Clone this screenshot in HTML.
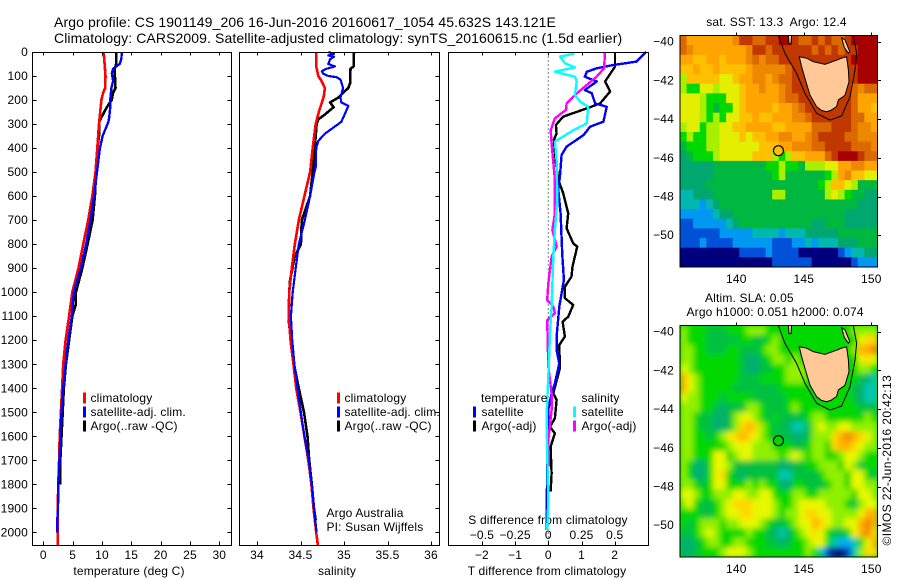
<!DOCTYPE html>
<html>
<head>
<meta charset="utf-8">
<title>Argo profile</title>
<style>
html,body{margin:0;padding:0;background:#fff;}
svg{display:block;}
text{font-family:"Liberation Sans",sans-serif;font-size:12px;fill:#000;letter-spacing:.17px;white-space:pre;}
.t{font-size:14px;letter-spacing:.1px;}
</style>
</head>
<body>
<svg id="chart" xmlns="http://www.w3.org/2000/svg" width="900" height="580" viewBox="0 0 900 580">
<rect width="900" height="580" fill="#fff"/>
<text class="t" x="54" y="27">Argo profile: CS 1901149_206 16-Jun-2016 20160617_1054 45.632S 143.121E</text>
<text class="t" x="54" y="43">Climatology: CARS2009. Satellite-adjusted climatology: synTS_20160615.nc (1.5d earlier)</text>
<text x="129" y="575" text-anchor="middle">temperature (deg C)</text>
<text x="337" y="575" text-anchor="middle">salinity</text>
<text x="547" y="575" text-anchor="middle">T difference from climatology</text>
<text x="548" y="524" text-anchor="middle">S difference from climatology</text>
<text x="326.5" y="517">Argo Australia</text>
<text x="326.5" y="531">PI: Susan Wijffels</text>
<text x="776.5" y="26" text-anchor="middle">sat. SST: 13.3  Argo: 12.4</text>
<text x="705" y="302">Altim. SLA: 0.05</text>
<text x="686.5" y="316">Argo h1000: 0.051 h2000: 0.074</text>
<text transform="translate(891,545.5) rotate(-90)" style="letter-spacing:.4px">©IMOS 22-Jun-2016 20:42:13</text>
<defs>
<clipPath id="clipSst"><rect x="680" y="35.5" width="197.5" height="231.5"/></clipPath>
<clipPath id="clipSla"><rect x="680" y="325.5" width="197.5" height="231.5"/></clipPath>
<filter id="smooth" x="-5%" y="-5%" width="110%" height="110%"><feGaussianBlur stdDeviation="2.8"/></filter>
</defs>
</svg>
<script>
// ---------- profile data ----------
var tempTicks = [0,5,10,15,20,25,30];
var salTicks = [34,34.5,35,35.5,36];
var depthTicks = [0,100,200,300,400,500,600,700,800,900,1000,1100,1200,1300,1400,1500,1600,1700,1800,1900,2000];
var tDiffTicks = [-2,-1,0,1,2];
var sDiffTicks = [-0.5,-0.25,0,0.25,0.5];
var sDiffTickLabels = ['\u22120.5','\u22120.25','0','0.25','0.5'];
var lonTicks = [140,145,150];
var latTicks = [-40,-42,-44,-46,-48,-50];

var tempClimDepth = [0,100,150,170,200,250,300,400,500,600,700,800,900,1000,1100,1200,1300,1400,1500,1600,1700,1800,1900,2000,2055];
var tempClimVal = [10.3,10.6,10.55,10.2,9.9,9.7,9.5,9.2,8.9,8.35,7.65,6.8,6.0,4.95,4.4,3.8,3.4,3.2,3.0,2.8,2.7,2.55,2.45,2.45,2.45];
var tempSatDepth = [0,30,50,70,90,120,150,200,230,270,290,320,350,400,500,600,700,800,900,1000,1100,1200,1300,1400,1500,1600,1700,1800,1900,1960,2000];
var tempSatVal = [13.4,13.3,13,11.9,11.7,11.9,11.6,11.4,11.4,11.25,11.1,10.6,10.1,9.65,9.15,8.65,8.05,7.3,6.4,5.2,4.85,4.25,3.8,3.4,3.1,2.95,2.75,2.55,2.5,2.35,2.35];
var tempArgoDepth = [0,50,70,100,150,170,200,220,240,270,290,350,400,500,600,700,800,900,1000,1050,1100,1200,1300,1400,1500,1600,1700,1800];
var tempArgoVal = [12.4,12.4,12.2,12.2,12.3,11.9,11.65,11.1,10.6,9.95,9.55,9.5,9.2,9,8.8,8.4,7.55,6.65,5.55,5.55,4.95,4.4,3.85,3.5,3.3,3.1,2.9,2.85];

var salClimDepth = [0,60,100,120,150,180,200,250,300,400,500,600,700,800,900,1000,1100,1200,1300,1400,1500,1600,1700,1800,1900,2000,2055];
var salClimVal = [34.68,34.68,34.705,34.74,34.78,34.77,34.755,34.71,34.675,34.64,34.61,34.545,34.48,34.435,34.4,34.37,34.365,34.385,34.42,34.45,34.5,34.545,34.59,34.625,34.65,34.68,34.7];
var salSatDepth = [0,8,14,20,30,50,60,70,80,90,100,105,115,150,190,210,225,250,290,310,340,370,400,480,500,600,700,800,900,1000,1100,1200,1300,1400,1500,1600,1700,1800,1900,2000];
var salSatVal = [34.82,34.885,34.82,34.885,34.84,34.82,34.895,34.8,34.745,34.76,34.82,34.915,34.96,34.99,34.96,34.97,35.05,35.02,34.97,34.895,34.78,34.705,34.68,34.675,34.66,34.61,34.55,34.48,34.445,34.41,34.39,34.405,34.43,34.465,34.505,34.545,34.595,34.63,34.655,34.685];
var salArgoDepth = [0,60,70,130,150,170,190,210,230,260,280,300,350,500,600,700,800,850,950,1000,1080,1120,1200,1300,1400,1500,1600,1700,1800,1900,1950];
var salArgoVal = [35.115,35.11,35.075,35.07,35.05,34.99,34.935,34.84,34.88,34.78,34.705,34.685,34.675,34.64,34.61,34.515,34.505,34.435,34.38,34.37,34.365,34.365,34.39,34.425,34.48,34.54,34.58,34.6,34.63,34.655,34.675];

var dTempArgoDepth = [5,61,123,165,214,235,269,304,339,366,463,533,588,672,734,797,810,894,935,977,1025,1053,1102,1123,1185,1220,1317,1421,1449,1525,1560,1588,1643,1754,1830];
var dTempArgoVal = [2.01,2.01,1.71,1.86,1.56,1.16,.45,.23,.25,.17,.23,.30,.45,.60,.55,.75,.87,.73,.70,.50,.50,.75,.60,.43,.50,.33,.35,.15,.25,.20,.05,.20,.07,.10,.07];
var dTempSatDepth = [0,40,54,68,82,103,123,158,172,214,228,290,311,346,394,429,519,575,672,838,949,1060,1185,1241,1296,1379,1421,1490,1657,1990];
var dTempSatVal = [2.95,2.66,1.96,1.46,1.16,1.1,1.46,1.1,1.31,1.41,1.76,1.66,1.26,1.06,.55,.40,.35,.30,.37,.42,.47,.33,.25,.25,.33,.20,.10,0,-.03,-.05];
var dSalSatDepth = [0,8,19,47,64,82,103,123,179,207,228,297,325,373,457,616,741,852,1060,1171,1352,1518,1671,1865,1990];
var dSalSatVal = [.188,.188,.088,.126,.20,.05,.20,.214,.20,.24,.30,.29,.19,.05,.063,.068,.05,.038,.025,.0125,0,-.0125,-.008,0,-.008];
var dSalArgoDepth = [0,68,103,137,179,214,241,276,325,380,533,672,741,810,852,963,1033,1060,1088,1116,1310,1421,1490,1615,1726];
var dSalArgoVal = [.427,.42,.364,.29,.20,.138,.133,.05,.018,.025,.05,.05,.03,.063,.025,0,-.008,.038,.05,-.008,0,.025,.025,0,.005];

// ---------- map data: one character per cell (colour level) ----------
var sstRows = [
"caaaaaaabddccddeedccdcdccdeeee",
"cbaaaaaaaabddcddddddcdcdcddeee",
"aa99aa9aaabcbccdddddddddddeeee",
"99a99a9999abbbbbcddddddddddeee",
"799999889aabbabccddddddddddeee",
"7668878889aabaabcdddddddddcbcc",
"8887666889aaaaabccddddddddcaaa",
"8887656689aaaa9aabcdddddddcaa9",
"88876768899a99aaabbcddddddccaa",
"7886778899aaaa99aaaacccdddcbba",
"6766778889899aabbaabcddddccbbb",
"566677888888999aabbbccddddcccb",
"4566678888899976799aaacdeeedcc",
"444445555555566766577788aabbaa",
"444445555555556755555567ab9988",
"444455555555555555555679987555",
"334445555555557755555578765544",
"333234555555555555555555555444",
"222223445555555555555555544444",
"112222234555555555554455544444",
"111111222223333233344444555555",
"111211112222221112232333444555",
"000000000111121111000000123344",
"000000000000001111110000001222"];
var slaRows = [
"766655566677766666666666667777",
"766655555665567666666666666899",
"776655566555677666666666667aab",
"776666666544567767666666666898",
"876666666544556677766666666776",
"a87666666555666677766666666543",
"a87666665555555666666666665433",
"877666566665555566666666665433",
"777665455577655567666666666555",
"776554457887656555567766666676",
"7765544579a9765543357877887777",
"776656789a98765554457779aba987",
"77666667888777666556 7769aa9877".replace(' ','').substring(0,30),
"776668867887777678767766788766",
"764468875555555445566777687 56".replace(' ',''),
"764468965455555335555677768865",
"776568866676766446655567768877",
"887667778877886667766777776887",
"786556789998887667888877765788",
"66655678899888767789 98877778aa".replace(' ','').substring(0,30),
"656777677888765567 88a987788aba".replace(' ','').substring(0,30),
"556787666676654346789865568ab9",
"445677667766655456678 86322368a9".replace(' ','').substring(0,30),
"445666788876666666676310013799"];
var sstPalette = {'0':'#00007f','1':'#0050d8','2':'#0098f0','3':'#00b8b0','4':'#00a870','5':'#00b840','6':'#00d800','7':'#a8f000','8':'#e4ee00','9':'#ffc000','a':'#ffa400','b':'#ee8800','c':'#dc6800','d':'#c03800','e':'#a80000'};
var slaPalette = {'0':'#00007f','1':'#0030e0','2':'#00b0f0','3':'#00c8b0','4':'#00b070','5':'#00c040','6':'#00d800','7':'#90f000','8':'#e8f800','9':'#ffd800','a':'#ffb000','b':'#f08800'};

// ---------- coastline and isobath (lon / lat) ----------
var tasLon = [144.67,145.2,145.7,146.57,147.43,147.8,148.17,148.3,148.35,148.05,147.9,147.56,147.43,147.0,146.69,146.3,145.95,145.46,145.09,144.84];
var tasLat = [-40.78,-40.85,-41.03,-41.17,-40.95,-40.85,-40.78,-41.47,-42.07,-42.76,-42.85,-43.0,-43.35,-43.55,-43.62,-43.55,-43.36,-42.76,-41.9,-41.29];
var kingLon = [143.85,144.1,144.05,143.9];
var kingLat = [-39.67,-39.67,-40.1,-40.1];
var flindersLon = [147.8,148.05,148.4,148.3,148.0];
var flindersLat = [-39.8,-39.9,-40.5,-40.6,-40.3];
var isoLon = [143.11,143.6,144.47,145.09,145.95,146.94,147.8,148.42,148.79,148.91,148.67];
var isoLat = [-39.67,-40.6,-41.64,-42.67,-43.7,-44.05,-43.84,-42.84,-41.47,-40.6,-39.67];
var argoLon = 143.121;
var argoLat = -45.632;

// ---------- axis functions ----------
var svg = document.getElementById('chart');
var NS = 'http://www.w3.org/2000/svg';
function yDepth(d){ return 52 + 0.2402*d; }
function xTemp(v){ return 43.3 + 5.867*v; }
function xSal(v){ return 257 + 87*(v-34); }
function xDT(v){ return 548.3 + 33.2*v; }
function xDS(v){ return 548.3 + 132.8*v; }
function xLon(v){ return 736.3 + 13.5*(v-140); }
function ySst(v){ return 41.7 + 19.35*(-40-v); }
function ySla(v){ return 331.7 + 19.35*(-40-v); }

function make(tag, attrs, name, parent){
  var el = document.createElementNS(NS, tag);
  for (var k in attrs) el.setAttribute(k, attrs[k]);
  
  
  (parent || svg).appendChild(el);
  return el;
}
function label(x, y, str, anchor, name){
  var t = make('text', {x:x, y:y, 'text-anchor':anchor}, name);
  t.textContent = str;
  return t;
}
function tick(x1,y1,x2,y2,name,parent){
  make('line', {x1:x1,y1:y1,x2:x2,y2:y2,stroke:'#000','stroke-width':1,'shape-rendering':'crispEdges'}, name, parent);
}
function frame(x,y,w,h,name){
  make('rect', {x:x,y:y,width:w,height:h,fill:'none',stroke:'#000','stroke-width':1,'shape-rendering':'crispEdges'}, name);
}
function profile(depths, vals, xf, color, width, name){
  var pts = [];
  for (var i=0;i<depths.length;i++) pts.push(xf(vals[i]).toFixed(1)+','+yDepth(depths[i]).toFixed(1));
  make('polyline', {points:pts.join(' '), fill:'none', stroke:color, 'stroke-width':width, 'shape-rendering':'crispEdges', 'stroke-linejoin':'round'}, name);
}
function legendBar(x, yc, color, name){
  make('rect', {x:x, y:yc-5.5, width:3, height:11, fill:color}, name);
}

var P1L=32.5,P1R=231.5,P2L=239.5,P2R=439.5,P3L=448.5,P3R=648.5,PT=52.5,PB=545.5;

// ---------- profile lines ----------
profile(tempArgoDepth,tempArgoVal,xTemp,'#000',2.6,'temperature-argo-line');
profile(tempClimDepth,tempClimVal,xTemp,'#f00',2.6,'temperature-climatology-line');
profile(tempSatDepth,tempSatVal,xTemp,'#00f',2.4,'temperature-satellite-line');
profile(salArgoDepth,salArgoVal,xSal,'#000',2.6,'salinity-argo-line');
profile(salClimDepth,salClimVal,xSal,'#f00',2.6,'salinity-climatology-line');
profile(salSatDepth,salSatVal,xSal,'#00f',2.2,'salinity-satellite-line');

make('line',{x1:xDT(0),y1:PT,x2:xDT(0),y2:PB,stroke:'#000','stroke-width':1,'stroke-dasharray':'1 3'},'zero-difference-line');
profile(dTempArgoDepth,dTempArgoVal,xDT,'#000',2.4,'t-difference-argo-line');
profile(dTempSatDepth,dTempSatVal,xDT,'#00f',2.4,'t-difference-satellite-line');
profile(dSalArgoDepth,dSalArgoVal,xDS,'#f0f',2.4,'s-difference-argo-line');
profile(dSalSatDepth,dSalSatVal,xDS,'#0ff',2.4,'s-difference-satellite-line');

// ---------- frames and ticks ----------
frame(P1L,PT,P1R-P1L,PB-PT,'temperature-panel-frame');
frame(P2L,PT,P2R-P2L,PB-PT,'salinity-panel-frame');
frame(P3L,PT,P3R-P3L,PB-PT,'difference-panel-frame');

depthTicks.forEach(function(d){
  var y = Math.round(yDepth(d))+0.5;
  if (d>0) tick(P1L,y,P1L+4,y,'depth-tick-left');
  if (d>0) tick(P1R-4,y,P1R,y,'depth-tick-right');
  if (d>0) tick(P2R-4,y,P2R,y,'salinity-depth-tick-right');
  label(28, yDepth(d)+4, String(d), 'end', 'depth-tick-label');
});
tempTicks.forEach(function(v){
  var x = Math.round(xTemp(v))+0.5;
  tick(x,PT,x,PT+3,'temperature-tick-top');
  tick(x,PB-4,x,PB,'temperature-tick-bottom');
  label(xTemp(v),559,String(v),'middle','temperature-tick-label');
});
salTicks.forEach(function(v){
  var x = Math.round(xSal(v))+0.5;
  tick(x,PT,x,PT+3,'salinity-tick-top');
  tick(x,PB-4,x,PB,'salinity-tick-bottom');
  label(xSal(v),559,String(v),'middle','salinity-tick-label');
});
tDiffTicks.forEach(function(v){
  var x = Math.round(xDT(v))+0.5;
  tick(x,PT,x,PT+3,'t-difference-tick-top');
  tick(x,PB-4,x,PB,'t-difference-tick-bottom');
  label(xDT(v),559,String(v).replace('-','\u2212'),'middle','t-difference-tick-label');
});
sDiffTicks.forEach(function(v,i){
  label(xDS(v),539,sDiffTickLabels[i],'middle','s-difference-tick-label');
});

// ---------- legends ----------
legendBar(83,398,'#f00','legend-bar-temperature-climatology');
legendBar(83,412,'#00f','legend-bar-temperature-satellite');
legendBar(83,426,'#000','legend-bar-temperature-argo');
label(90.5,402,'climatology','start','legend-temperature-climatology');
label(90.5,416,'satellite-adj. clim.','start','legend-temperature-satellite');
label(90.5,430,'Argo(..raw -QC)','start','legend-temperature-argo');
legendBar(337,398,'#f00','legend-bar-salinity-climatology');
legendBar(337,412,'#00f','legend-bar-salinity-satellite');
legendBar(337,426,'#000','legend-bar-salinity-argo');
label(344.5,402,'climatology','start','legend-salinity-climatology');
label(344.5,416,'satellite-adj. clim.','start','legend-salinity-satellite');
label(344.5,430,'Argo(..raw -QC)','start','legend-salinity-argo');
label(481,402,'temperature','start','legend-temperature-heading');
legendBar(473,412,'#00f','legend-bar-t-satellite');
legendBar(473,426,'#000','legend-bar-t-argo');
label(481.5,416,'satellite','start','legend-t-satellite');
label(481.5,430,'Argo(-adj)','start','legend-t-argo');
label(581.5,402,'salinity','start','legend-salinity-heading');
legendBar(573,412,'#0ff','legend-bar-s-satellite');
legendBar(573,426,'#f0f','legend-bar-s-argo');
label(581.5,416,'satellite','start','legend-s-satellite');
label(581.5,430,'Argo(-adj)','start','legend-s-argo');

// ---------- maps ----------
function drawCells(rows, palette, left, top, group){
  var cw = 197.5/30, ch = 231.5/24;
  rows.forEach(function(row, r){
    for (var c=0;c<30;c++){
      var lvl = row.charAt(c) || row.charAt(row.length-1);
      var cell = document.createElementNS(NS,'rect');
      cell.setAttribute('x',(left+c*cw).toFixed(2));
      cell.setAttribute('y',(top+r*ch).toFixed(2));
      cell.setAttribute('width',(cw+0.6).toFixed(2));
      cell.setAttribute('height',(ch+0.6).toFixed(2));
      cell.setAttribute('fill',palette[lvl]);
      
      
      group.appendChild(cell);
    }
  });
}
function lonLatPoints(lons, lats, yf){
  var p=[];
  for (var i=0;i<lons.length;i++) p.push(xLon(lons[i]).toFixed(1)+','+yf(lats[i]).toFixed(1));
  return p.join(' ');
}
function drawMap(rows, palette, top, yf, clip, markerFill, blur, prefix){
  var outer = make('g',{'clip-path':'url(#'+clip+')'},prefix+'-map');
  make('rect',{x:680,y:top,width:197.5,height:231.5,fill:palette['6']},prefix+'-map-background',outer);
  var cells = make('g',blur?{filter:'url(#smooth)'}:{},prefix+'-map-cells',outer);
  drawCells(rows,palette,680,top,cells);
  make('polygon',{points:lonLatPoints(tasLon,tasLat,yf),fill:'#ffc896',stroke:'#000','stroke-width':1},prefix+'-tasmania',outer);
  make('polygon',{points:lonLatPoints(kingLon,kingLat,yf),fill:'#ffc896',stroke:'#000','stroke-width':1},prefix+'-king-island',outer);
  make('polygon',{points:lonLatPoints(flindersLon,flindersLat,yf),fill:'#ffc896',stroke:'#000','stroke-width':1},prefix+'-flinders-island',outer);
  make('polyline',{points:lonLatPoints(isoLon,isoLat,yf),fill:'none',stroke:'#000','stroke-width':1},prefix+'-isobath',outer);
  make('circle',{cx:xLon(argoLon),cy:yf(argoLat),r:5,fill:markerFill,stroke:'#000','stroke-width':1.2},prefix+'-argo-marker',outer);
  frame(680,top,197.5,231.5,prefix+'-map-frame');
  lonTicks.forEach(function(v){
    var x=Math.round(xLon(v))+0.5;
    tick(x,top-3,x,top,prefix+'-lon-tick');
    label(xLon(v),top+231.5+16,String(v),'middle',prefix+'-lon-label');
  });
  latTicks.forEach(function(v){
    var y=Math.round(yf(v))+0.5;
    tick(877.5,y,881,y,prefix+'-lat-tick');
    label(674,yf(v)+4,String(v).replace('-','\u2212'),'end',prefix+'-lat-label');
  });
}
drawMap(sstRows,sstPalette,35.5,ySst,'clipSst','#ffc000',false,'sst');
drawMap(slaRows,slaPalette,325.5,ySla,'clipSla','#00d800',true,'sla');
</script>
</body>
</html>
